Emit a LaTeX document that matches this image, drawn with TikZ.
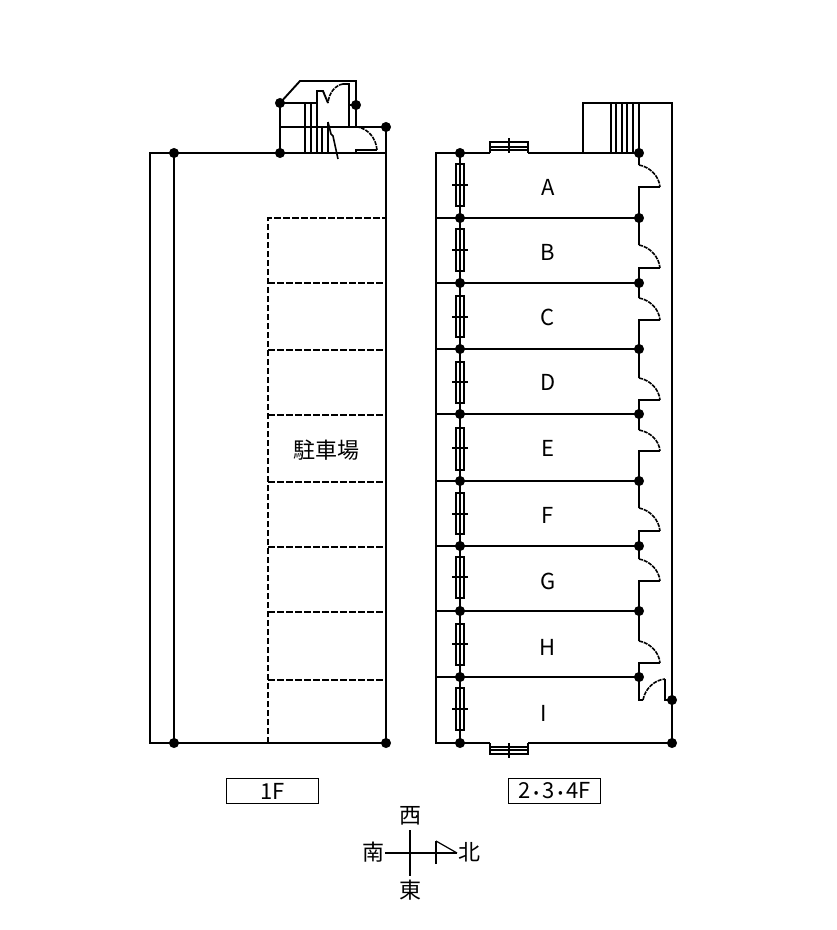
\documentclass[tikz,border=0pt]{standalone}
\usepackage{fontspec}
\setmainfont{Noto Sans CJK JP}
\usetikzlibrary{positioning}

\begin{document}
\begin{tikzpicture}[x=1pt,y=-1pt,line width=1.9pt]
\useasboundingbox (0,0) rectangle (837,930);

\tikzstyle{every node}=[font=\fontsize{22}{24}\selectfont,inner sep=0pt]
\tikzstyle{wall}=[line join=miter,line cap=butt]
\tikzstyle{thinwall}=[line width=1.6pt]
\tikzstyle{parking}=[line width=1.6pt,dash pattern=on 6.5pt off 2.5pt]
\tikzstyle{swing}=[line width=1.6pt,dash pattern=on 4pt off 1pt]
\tikzstyle{floorbox}=[draw,line width=1.9pt,minimum width=92pt,minimum height=25pt]

% 1F outline
\draw[wall] (150,153) rectangle (386,743);
\draw[wall] (174,153) -- (174,743);
\draw[wall] (386,127) -- (386,153);

% 1F parking
\draw[parking] (268,743) -- (268,218) -- (386,218);
\draw[parking] (268,283) -- (386,283);
\draw[parking] (268,350) -- (386,350);
\draw[parking] (268,415) -- (386,415);
\draw[parking] (268,482) -- (386,482);
\draw[parking] (268,547) -- (386,547);
\draw[parking] (268,612) -- (386,612);
\draw[parking] (268,680) -- (386,680);
\node (parkinglabel) at (326,450) {駐車場};

% 1F entrance and stairs
\draw[wall] (280,153) -- (280,103) -- (300,81) -- (356,81) -- (356,127);
\draw[wall] (280,127) -- (386,127);
\draw[wall] (280,103) -- (317,103) -- (317,91) -- (323,91) -- (328,103);
\draw[wall] (350,105) -- (356,105);
\draw[wall] (349,127) -- (349,84) -- (343,84);
\draw[swing] (343,84) .. controls (336,85) and (329,92) .. (328,103);
\draw[thinwall] (305,103) -- (305,153);
\draw[thinwall] (311,103) -- (311,153);
\draw[thinwall] (317,103) -- (317,153);
\draw[thinwall] (322,127) -- (322,153);
\draw[thinwall] (328,122) -- (328,153);
\draw[thinwall] (328,122) -- (331,134) -- (333,136) -- (338,159);
\draw[wall] (356,153) -- (356,150) -- (377,150);
\draw[swing] (377,150) .. controls (376,138) and (368,129) .. (358,127);

% 2F-4F outline
\draw[wall] (490,153) -- (436,153) -- (436,743) -- (490,743);
\draw[wall] (528,153) -- (639,153);
\draw[wall] (528,743) -- (672,743) -- (672,103) -- (583,103) -- (583,153);
\draw[wall] (460,153) -- (460,743);

% stairs
\draw[thinwall] (611,103) -- (611,153);
\draw[thinwall] (616,103) -- (616,153);
\draw[thinwall] (622,103) -- (622,153);
\draw[thinwall] (627,103) -- (627,153);
\draw[thinwall] (633,103) -- (633,153);
\draw[thinwall] (639,103) -- (639,153);

% room walls
\draw[wall] (436,218) -- (639,218);
\draw[wall] (436,283) -- (639,283);
\draw[wall] (436,349) -- (639,349);
\draw[wall] (436,414) -- (639,414);
\draw[wall] (436,481) -- (639,481);
\draw[wall] (436,546) -- (639,546);
\draw[wall] (436,611) -- (639,611);
\draw[wall] (436,677) -- (639,677);

% doors
\draw[wall] (639,153) -- (639,165) (660,187) -- (639,187) -- (639,245);
\draw[wall] (660,268) -- (639,268) -- (639,298);
\draw[wall] (660,320) -- (639,320) -- (639,378);
\draw[wall] (660,400) -- (639,400) -- (639,430);
\draw[wall] (660,451) -- (639,451) -- (639,508);
\draw[wall] (660,531) -- (639,531) -- (639,559);
\draw[wall] (660,581) -- (639,581) -- (639,641);
\draw[wall] (660,663) -- (639,663) -- (639,700) -- (643,700);
\draw[wall] (665,679) -- (665,700) -- (672,700);
\draw[swing] (639,165) .. controls (650,167) and (659,176) .. (660,187);
\draw[swing] (639,245) .. controls (650,247) and (659,257) .. (660,268);
\draw[swing] (639,298) .. controls (650,300) and (659,309) .. (660,320);
\draw[swing] (639,378) .. controls (650,380) and (659,389) .. (660,400);
\draw[swing] (639,430) .. controls (650,432) and (659,440) .. (660,451);
\draw[swing] (639,508) .. controls (650,510) and (659,520) .. (660,531);
\draw[swing] (639,559) .. controls (650,561) and (659,570) .. (660,581);
\draw[swing] (639,641) .. controls (650,643) and (659,652) .. (660,663);
\draw[swing] (643,700) .. controls (645,689) and (654,680) .. (665,679);

% windows
\draw[thinwall] (456,164) rectangle (464,206) (452,185) -- (468,185);
\draw[thinwall] (456,229) rectangle (464,271) (452,250) -- (468,250);
\draw[thinwall] (456,296) rectangle (464,337) (452,317) -- (468,317);
\draw[thinwall] (456,362) rectangle (464,403) (452,382) -- (468,382);
\draw[thinwall] (456,428) rectangle (464,470) (452,448) -- (468,448);
\draw[thinwall] (456,493) rectangle (464,534) (452,514) -- (468,514);
\draw[thinwall] (456,557) rectangle (464,598) (452,577) -- (468,577);
\draw[thinwall] (456,624) rectangle (464,665) (452,644) -- (468,644);
\draw[thinwall] (456,688) rectangle (464,730) (452,709) -- (468,709);
\draw[thinwall] (490,153) -- (490,142) -- (528,142) -- (528,153) (490,147) -- (528,147) (490,150) -- (528,150) (509,138) -- (509,153);
\draw[thinwall] (490,743) -- (490,754) -- (528,754) -- (528,743) (490,747) -- (528,747) (490,750) -- (528,750) (509,743) -- (509,758);

% room names
\node (rooma) at (548,187) {A};
\node (roomb) at (548,252) {B};
\node (roomc) at (548,317) {C};
\node (roomd) at (548,382) {D};
\node (roome) at (548,448) {E};
\node (roomf) at (548,515) {F};
\node (roomg) at (548,581) {G};
\node (roomh) at (548,647) {H};
\node (roomi) at (544,713) {I};

\filldraw
(280,103) circle (4pt)
(356,105) circle (4pt)
(386,127) circle (4pt)
(174,153) circle (4pt)
(280,153) circle (4pt)
(174,743) circle (4pt)
(386,743) circle (4pt)

(460,153) circle (4pt)
(460,218) circle (4pt)
(460,283) circle (4pt)
(460,349) circle (4pt)
(460,414) circle (4pt)
(460,481) circle (4pt)
(460,546) circle (4pt)
(460,611) circle (4pt)
(460,677) circle (4pt)
(460,743) circle (4pt)

(639,153) circle (4pt)
(639,218) circle (4pt)
(639,283) circle (4pt)
(639,349) circle (4pt)
(639,414) circle (4pt)
(639,481) circle (4pt)
(639,546) circle (4pt)
(639,611) circle (4pt)
(639,677) circle (4pt)
(672,700) circle (4pt)
(672,743) circle (4pt);

% floor labels
\node (floorone) [floorbox] at (272.5,791) {1F};
\node (floorupper) [floorbox] at (554.5,791) {2\,{\fontsize{14}{14}\selectfont\raisebox{1pt}{•}}\,3\,{\fontsize{14}{14}\selectfont\raisebox{1pt}{•}}\,4F};

% compass
\node (west) at (410,816) {西};
\node (east) at (410,890) {東};
\node (south) at (373,852) {南};
\node (north) at (469,852) {北};
\draw (west) ++(0,14) -- (410,876);
\draw (south) ++(12,1) -- (457,853);
\draw (436,864) -- (436,841);
\draw[line width=1.2pt] (436,841) -- (457,853);
\end{tikzpicture}
\end{document}
